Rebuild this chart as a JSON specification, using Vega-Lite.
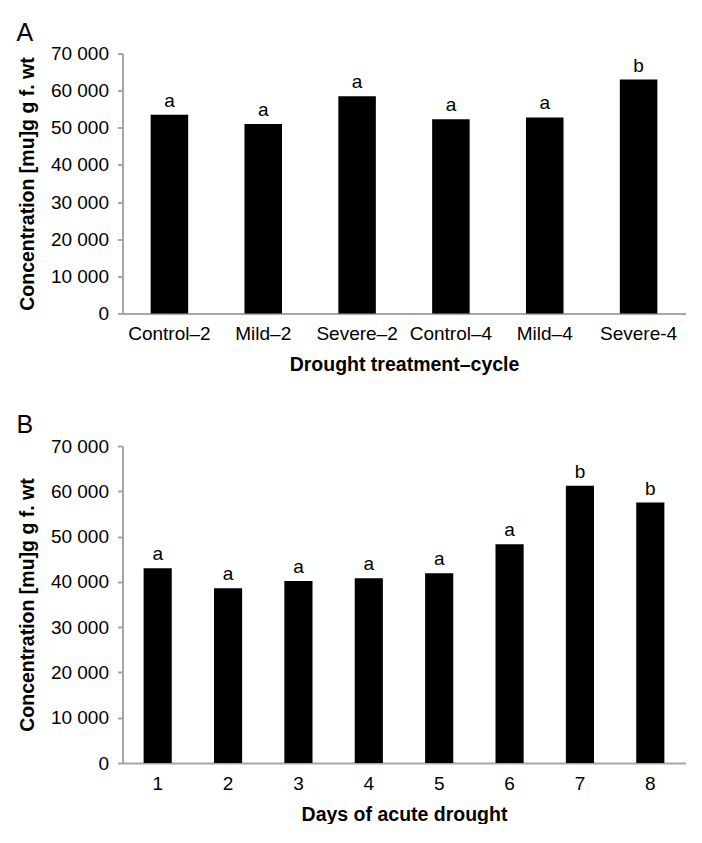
{
  "$schema": "https://vega.github.io/schema/vega-lite/v6.json",
  "background": "white",
  "padding": {"left": 15.5, "top": 20.5, "right": 17, "bottom": 0},
  "spacing": 38.5,
  "config": {
    "font": "Liberation Sans",
    "view": {"stroke": null},
    "axis": {
      "domainColor": "#a6a6a6", "domainWidth": 2, "tickColor": "#a6a6a6", "tickWidth": 2,
      "labelFont": "Liberation Sans", "labelFontSize": 19, "labelColor": "#000",
      "titleFont": "Liberation Sans", "titleFontSize": 19.5, "titleFontWeight": "bold", "titleColor": "#000",
      "grid": false, "labelOverlap": false, "labelBound": false
    },
    "title": {"fontSize": 25, "fontWeight": "normal", "anchor": "start", "frame": "bounds", "color": "#000", "font": "Liberation Sans", "offset": -1, "dx": -1}
  },
  "vconcat": [
    {
      "title": "A",
      "width": 563, "height": 260,
      "data": {"values": [
        {"group": "Control–2", "conc": 53500, "sig": "a"},
        {"group": "Mild–2", "conc": 51000, "sig": "a"},
        {"group": "Severe–2", "conc": 58500, "sig": "a"},
        {"group": "Control–4", "conc": 52300, "sig": "a"},
        {"group": "Mild–4", "conc": 52800, "sig": "a"},
        {"group": "Severe-4", "conc": 63000, "sig": "b"}
      ]},
      "encoding": {
        "x": {"field": "group", "type": "nominal", "sort": null,
              "scale": {"paddingInner": 0.6, "paddingOuter": 0.3},
              "axis": {"title": "Drought treatment–cycle", "labelAngle": 0, "ticks": false, "labelPadding": 11, "titlePadding": 12}},
        "y": {"field": "conc", "type": "quantitative",
              "scale": {"domain": [0, 70000]},
              "axis": {"title": "Concentration [mu]g g f. wt", "values": [0, 10000, 20000, 30000, 40000, 50000, 60000, 70000],
                       "tickSize": 5, "labelPadding": 9, "titlePadding": 13,
                       "labelExpr": "replace(format(datum.value, ','), ',', ' ')"}}
      },
      "layer": [
        {"mark": {"type": "bar", "color": "black"}},
        {"mark": {"type": "text", "baseline": "alphabetic", "dy": -8, "fontSize": 19, "color": "black"},
         "encoding": {"text": {"field": "sig"}}}
      ]
    },
    {
      "title": "B",
      "width": 563, "height": 317,
      "data": {"values": [
        {"day": "1", "conc": 43000, "sig": "a"},
        {"day": "2", "conc": 38600, "sig": "a"},
        {"day": "3", "conc": 40200, "sig": "a"},
        {"day": "4", "conc": 40800, "sig": "a"},
        {"day": "5", "conc": 41900, "sig": "a"},
        {"day": "6", "conc": 48300, "sig": "a"},
        {"day": "7", "conc": 61200, "sig": "b"},
        {"day": "8", "conc": 57500, "sig": "b"}
      ]},
      "encoding": {
        "x": {"field": "day", "type": "ordinal", "sort": null,
              "scale": {"paddingInner": 0.6, "paddingOuter": 0.3},
              "axis": {"title": "Days of acute drought", "labelAngle": 0, "ticks": false, "labelPadding": 11, "titlePadding": 12}},
        "y": {"field": "conc", "type": "quantitative",
              "scale": {"domain": [0, 70000]},
              "axis": {"title": "Concentration [mu]g g f. wt", "values": [0, 10000, 20000, 30000, 40000, 50000, 60000, 70000],
                       "tickSize": 5, "labelPadding": 9, "titlePadding": 13,
                       "labelExpr": "replace(format(datum.value, ','), ',', ' ')"}}
      },
      "layer": [
        {"mark": {"type": "bar", "color": "black"}},
        {"mark": {"type": "text", "baseline": "alphabetic", "dy": -8, "fontSize": 19, "color": "black"},
         "encoding": {"text": {"field": "sig"}}}
      ]
    }
  ]
}
